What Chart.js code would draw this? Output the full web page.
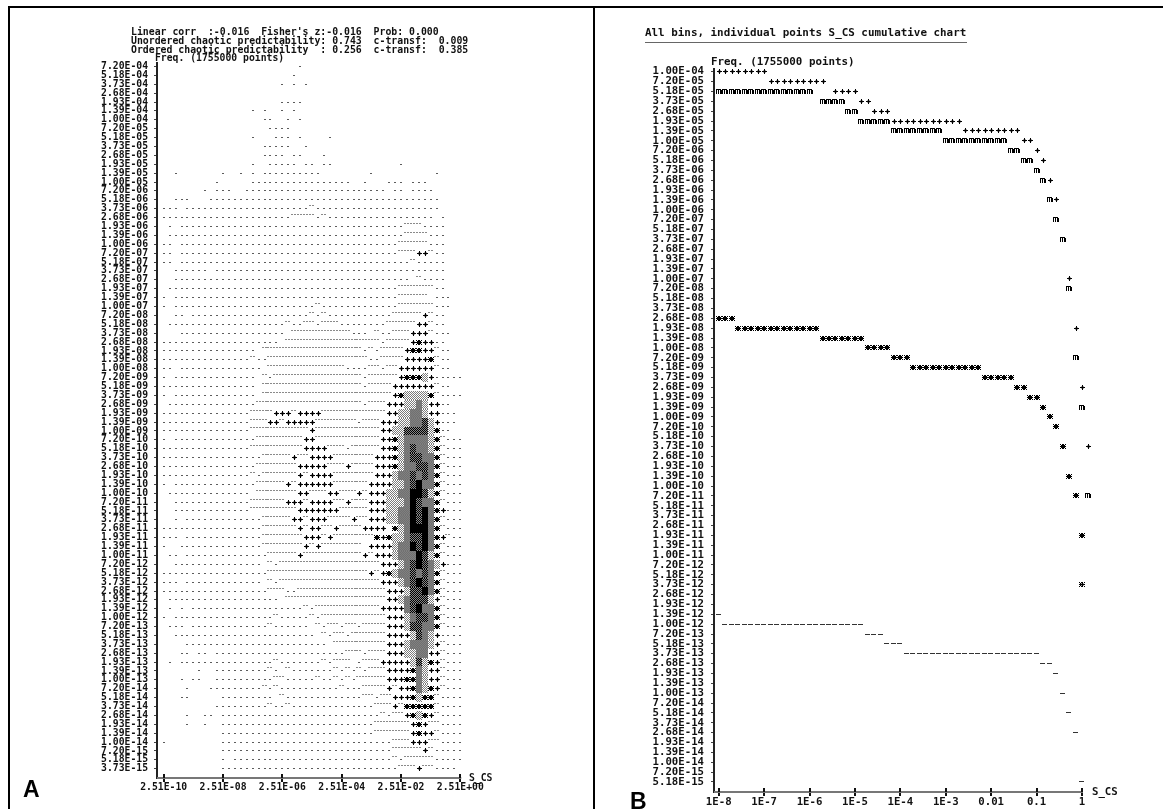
<!DOCTYPE html>
<html><head><meta charset="utf-8">
<style>
html,body{margin:0;padding:0;background:#fff;width:1171px;height:809px;overflow:hidden}
canvas{position:absolute;top:0}
.t{position:absolute;white-space:pre;font-family:"DejaVu Sans Mono",monospace;font-weight:bold;color:#111;line-height:10px}
.l{position:absolute;background:#000}
.p{position:absolute;font-family:"Liberation Sans",sans-serif;font-weight:bold;color:#000;font-size:23px;line-height:23px}
</style></head><body>
<div class="l" style="left:8px;top:6px;width:1155px;height:2px"></div>
<div class="l" style="left:8px;top:6px;width:2px;height:803px"></div>
<div class="l" style="left:593px;top:6px;width:2px;height:803px"></div>
<div style="position:absolute;left:0;top:0;width:594px;height:809px"><canvas id="a" width="594" height="809" style="left:0;width:594px;height:809px"></canvas></div>
<div style="position:absolute;left:596px;top:0;width:575px;height:809px"><canvas id="b" width="575" height="809" style="left:0;width:575px;height:809px"></canvas></div>
<div class="t" style="left:131px;top:27px;font-size:9.83px">Linear corr  :-0.016  Fisher's z:-0.016  Prob: 0.000</div>
<div class="t" style="left:131px;top:36px;font-size:9.83px">Unordered chaotic predictability: 0.743  c-transf:  0.009</div>
<div class="t" style="left:131px;top:45px;font-size:9.83px">Ordered chaotic predictability  : 0.256  c-transf:  0.385</div>
<div class="t" style="left:155px;top:53px;font-size:9.75px">Freq. (1755000 points)</div>
<div class="t" style="left:469px;top:773px;font-size:9.75px">S_CS</div>
<div class="p" style="left:23px;top:778px">A</div>
<div class="t" style="left:645px;top:28px;font-size:10.9px">All bins, individual points S_CS cumulative chart</div>
<div style="position:absolute;left:645px;top:41.5px;width:322px;height:1.5px;background:#666"></div>
<div class="t" style="left:711px;top:57px;font-size:10.85px">Freq. (1755000 points)</div>
<div class="t" style="left:1092px;top:787px;font-size:10.7px">S_CS</div>
<div class="p" style="left:630px;top:790px">B</div>
<script src="https://cdn.jsdelivr.net/npm/chart.js@4"></script>
<script>
// Panel A: frequency bins (rows, top to bottom)
const freqLabelsA = ["7.20E-04","5.18E-04","3.73E-04","2.68E-04","1.93E-04","1.39E-04","1.00E-04","7.20E-05","5.18E-05","3.73E-05","2.68E-05","1.93E-05","1.39E-05","1.00E-05","7.20E-06","5.18E-06","3.73E-06","2.68E-06","1.93E-06","1.39E-06","1.00E-06","7.20E-07","5.18E-07","3.73E-07","2.68E-07","1.93E-07","1.39E-07","1.00E-07","7.20E-08","5.18E-08","3.73E-08","2.68E-08","1.93E-08","1.39E-08","1.00E-08","7.20E-09","5.18E-09","3.73E-09","2.68E-09","1.93E-09","1.39E-09","1.00E-09","7.20E-10","5.18E-10","3.73E-10","2.68E-10","1.93E-10","1.39E-10","1.00E-10","7.20E-11","5.18E-11","3.73E-11","2.68E-11","1.93E-11","1.39E-11","1.00E-11","7.20E-12","5.18E-12","3.73E-12","2.68E-12","1.93E-12","1.39E-12","1.00E-12","7.20E-13","5.18E-13","3.73E-13","2.68E-13","1.93E-13","1.39E-13","1.00E-13","7.20E-14","5.18E-14","3.73E-14","2.68E-14","1.93E-14","1.39E-14","1.00E-14","7.20E-15","5.18E-15","3.73E-15"];
// Panel A: S_CS bins (columns)
const sBins = [2.51e-10,3.98e-10,6.31e-10,1e-9,1.58e-9,2.51e-9,3.98e-9,6.31e-9,1e-8,1.58e-8,2.51e-8,3.98e-8,6.31e-8,1e-7,1.58e-7,2.51e-7,3.98e-7,6.31e-7,1e-6,1.58e-6,2.51e-6,3.98e-6,6.31e-6,1e-5,1.58e-5,2.51e-5,3.98e-5,6.31e-5,1e-4,1.58e-4,2.51e-4,3.98e-4,6.31e-4,1e-3,1.58e-3,2.51e-3,3.98e-3,6.31e-3,1e-2,1.58e-2,2.51e-2,3.98e-2,6.31e-2,1e-1,1.58e-1,2.51e-1,3.98e-1,6.31e-1,1,1.58,2.51];
const xTicksA = [2.51e-10,2.51e-8,2.51e-6,2.51e-4,2.51e-2,2.51];
const xLabelsA = ["2.51E-10","2.51E-08","2.51E-06","2.51E-04","2.51E-02","2.51E+00"];
// Panel A: density per row, as runs "<level><firstColumn>-<lastColumn>"
// . single hit, - few, + more, * many, g/h/k/B growing shaded density
const densityRows = [
".23",".22",".20 .22 .24","",".20-23",".15 .17 .20 .22",".17-18 .21 .23",".18-21",".15 .19-21 .23 .28",".17-21 .24",
".17-20 .22-23 .27",".15 .18-22 .24-25 .27-28 .40",".2 .10 .13 .15 .17-26 .35 .46",".9 .15-31 .34 .38-40 .42-44",".7 .9-11 .14-37 .39-40 .42-45",".2-4 .8-46",".0-2 .4-24 -25 .26-46",".0-21 -22-25 .26 -27 .28-45 .47",".1 .3-40 -41-43 .44-47",".1-40 -41-44 .45-47",
".0-1 .3-39 -40-44 .45-47",".0-1 .3-39 -40-42 +43-44 -45 .46-47",".0-1 .3-41 -42 .43-47",".2-7 .9-47",".2-41 -43 .44-47",".1-39 -40-45 .46-47",".0 .2-39 -40-44 .46-48",".0 .2-25 -26 .27-39 -40-45 .46-48",".2-3 .5-24 -25 .26 -27 .28-38 -39-43 +44 -45 .46-47",".1-20 -21 .22-23 -24-25 .26 -27-29 .30-37 -38-42 +43-44 -45 .46-47",
".3-20 -22-31 .32-34 -36 .37-38 -39-41 +42-44 -45 .46-48",".0-19 -21-36 .37 -38-41 +42 *43 +44-45 .46-47",".0-15 -17-33 .34 -35 .36 -37-40 +41 *42-43 +44-45 -46 .47-48",".0-14 -15 .16-17 -18-34 .35-36 -37-40 +41-44 *45 -46 .47-48",".0-1 .3-16 -18-30 .31-34 -35-36 .37 -38-39 +40-45 -46 .47-48",".0 .2-15 -17 .18 -19-33 .34 -35-39 +40 *41-43 g44 +45 .46-50",".0-15 -17-33 .34 -35-38 +39-45 -46 .47-48",".0 .2-15 -17-38 +39 *40 g41-44 *45 -46 .47-50",".1-15 -16-33 .34 -35-37 +38-40 g41-42 h43 g44 +45-46 .47-48",".0-14 -15-18 +19-21 -22 +23-26 -27-37 +38-39 g40-41 h42-43 g44 +45-46 .47-49",
".0-14 -15-17 +18-19 -20 +21-25 -26-32 .33 -34-36 +37-39 g40-41 h42-43 k44 g45 +46 .47-49",".0-14 -15-24 +25 -26-36 +37-38 g39-40 k41-44 g45 *46 .47-48",".0 .2-15 -16-23 +24-25 -26-36 +37-38 *39 g40 h41-44 g45 *46 -47 .48-50",".0-14 -15-23 +24-27 -28-30 .31 -32-36 +37-38 *39 g40 h41 k42 h43-44 g45 *46 -47 .48-50",".0-16 -17-21 +22 -23-24 +25-28 -29-35 +36-38 *39 g40 h41 k42-43 h44-45 *46 -47 .48-50",".0-15 -16-22 +23-27 -28-30 +31 -32-35 +36-38 *39 g40 h41-42 k43-44 h45 *46 -47 .48-50",".0-14 -15 .16 -17-22 +23 -24 +25-28 -29-35 +36-38 g39 h40-41 k42 h43 k44 h45 *46 -47 .48-50",".0 .2-15 -16-20 +21 -22 +23-28 -29-34 +35-38 g39-40 h41 k42 B43 h44-45 *46 -47 .48-50",".1-14 -16-22 +23-24 -25-27 +28-29 -30-32 +33 -34 +35-37 g38-39 h40-41 B42-43 k44 g45 *46 -47 .48-50",".2-14 -15-20 +21-23 -24 +25-28 -29-30 +31 -32-34 +35-37 g38-40 h41 B42 k43 h44-45 *46 -47 .48-50",
".2-14 -15-22 +23-29 -30-34 +35-37 g38-39 h40-41 B42 k43 B44 h45 *46 +47 .48-50",".2 .4-16 -17-21 +22-23 -24 +25-27 -28-31 +32 -33-34 +35-37 g38-39 h40-41 B42 k43 B44 h45 *46 -47 .48-50",".0-16 -17-22 +23 -24 +25-26 -27-28 +29 -30-33 +34-37 *39 g40 h41 B42-44 h45 *46 -47 .48-50",".0-2 .4-16 -17-23 +24-26 -27 +28 -29-35 *36 +37 *38 g39-40 h41 k42-43 B44 h45 *46 +47 -48 .49-50",".0 .3-16 -17-23 +24 -25 +26 -27-33 +35-38 g39 h40-41 B42 k43 B44 h45 *46 -47 .48-50",".1-2 .4-17 -18-22 +23 -24-33 +34 -35 +36-38 g39 h40-42 B43 k44 g45 *46 -47 .48-50",".2-16 -18 .19 -20-36 +37-39 g40 h41 k42 B43 k44 h45 g46 +47 .48-50",".0-17 -18-34 +35 -36 +37 *38 g39 h40-41 k42 h43 k44 h45 *46 -47 .48-50",".0-2 .4-16 -18 .19 -20-36 +37-39 g40 h41 k42 B43 k44 h45 *46 -47 .48-50",".0-17 -18-20 .21-22 -23-37 +38-40 g41 k42-43 B44 h45 *46 -47 .48-50",
".1-19 -21-37 +38-39 g40 h41 k42-44 g45 +46 -47 .48-50",".1 .3 .5-23 -24 .25 -26-36 +37-40 h41 k42 B43 h44-45 *46 -47 .48-50",".0 .2-18 -19 .20-24 -25 .26 -27-37 +38-40 g41 h42 k43-44 h45 *46 -47 .48-50",".1-3 .5-17 -18 .19-24 -26 .27 -28-29 .30 -31-32 .33 -34-37 +38-40 g41 k42-43 h44-45 *46 -47 .48-50",".2-25 -27 .28 -29-30 .31 -32-37 +38-41 g42 k43 h44 g45 +46 .47-50",".4-27 -29-37 +38-40 g41 h42-44 g45 +46 -47 .48-50",".3-4 .6-7 .9-30 -31-33 .34 -35-37 +38-40 g41-42 h43-44 +45-46 -47 .48-50",".1 .3-18 -19 .20-26 -27 .28 -29-31 .33 -34-36 +37-41 g42 k43 g44 *45 +46 -47 .48-50",".6 .9-17 -18 .19 -21 .22-28 -29 .30 -31 .32 -33 .34 -35-37 +38-41 *42 h43 g44 +45-46 -47 .48-50",".3 .5-6 .9-18 -19-20 .21-25 -26 .27-28 -29 .30 -31 .32 -33-37 +38-40 *41-42 h43 g44 +45-46 -47 .48-50",
".4 .8-16 -17 .18 -19 .20-29 -30 .31-33 -34-37 +38 -39 +40-41 *42 h43 g44 *45 +46 -47 .48-50",".3-4 .10-18 -20 .21-33 -34-35 .36 -37-38 +39-41 *42 g43 *44-45 -46 .47-50",".9-17 -18 .19-20 -21 .22-35 -36-38 +39 -40 *41-45 -46 .47-50",".4 .7-8 .10-36 -37 .38 -39-40 +41 *42 g43 *44 +45 -46 .47-50",".4 .7 .10-35 -36-41 +42 *43 +44 -45-46 .47-50",".10-35 -36-41 +42 *43 +44-45 -46 .47-50",".0 .10-38 -39-41 +42-44 -45-46 .47-50",".10-38 -39-43 +44 -45 .46-50",".10 .12-38 -39 .40 -41-45 .46-50",".10-39 -40-42 +43 -44-45 .46-49"
];

// Panel B: frequency bins
const freqLabelsB = ["1.00E-04","7.20E-05","5.18E-05","3.73E-05","2.68E-05","1.93E-05","1.39E-05","1.00E-05","7.20E-06","5.18E-06","3.73E-06","2.68E-06","1.93E-06","1.39E-06","1.00E-06","7.20E-07","5.18E-07","3.73E-07","2.68E-07","1.93E-07","1.39E-07","1.00E-07","7.20E-08","5.18E-08","3.73E-08","2.68E-08","1.93E-08","1.39E-08","1.00E-08","7.20E-09","5.18E-09","3.73E-09","2.68E-09","1.93E-09","1.39E-09","1.00E-09","7.20E-10","5.18E-10","3.73E-10","2.68E-10","1.93E-10","1.39E-10","1.00E-10","7.20E-11","5.18E-11","3.73E-11","2.68E-11","1.93E-11","1.39E-11","1.00E-11","7.20E-12","5.18E-12","3.73E-12","2.68E-12","1.93E-12","1.39E-12","1.00E-12","7.20E-13","5.18E-13","3.73E-13","2.68E-13","1.93E-13","1.39E-13","1.00E-13","7.20E-14","5.18E-14","3.73E-14","2.68E-14","1.93E-14","1.39E-14","1.00E-14","7.20E-15","5.18E-15"];
// Panel B: cumulative S_CS bins
const cumBins = [1e-8,1.39e-8,1.93e-8,2.68e-8,3.73e-8,5.18e-8,7.2e-8,1e-7,1.39e-7,1.93e-7,2.68e-7,3.73e-7,5.18e-7,7.2e-7,1e-6,1.39e-6,1.93e-6,2.68e-6,3.73e-6,5.18e-6,7.2e-6,1e-5,1.39e-5,1.93e-5,2.68e-5,3.73e-5,5.18e-5,7.2e-5,1e-4,1.39e-4,1.93e-4,2.68e-4,3.73e-4,5.18e-4,7.2e-4,1e-3,1.39e-3,1.93e-3,2.68e-3,3.73e-3,5.18e-3,7.2e-3,1e-2,1.39e-2,1.93e-2,2.68e-2,3.73e-2,5.18e-2,7.2e-2,1e-1,1.39e-1,1.93e-1,2.68e-1,3.73e-1,5.18e-1,7.2e-1,1,1.39];
const xTicksB = [1e-8,1e-7,1e-6,1e-5,1e-4,1e-3,1e-2,1e-1,1];
const xLabelsB = ["1E-8","1E-7","1E-6","1E-5","1E-4","1E-3","0.01","0.1","1"];
// Panel B: cumulative series, as "<freq bin> <firstColumn>-<lastColumn>"
const cumPlus = ["1.00E-04 0-7","7.20E-05 8-16","5.18E-05 18-21","3.73E-05 22-23","2.68E-05 24-26","1.93E-05 27-37","1.39E-05 38-46","1.00E-05 47-48","7.20E-06 49-49","5.18E-06 50-50","2.68E-06 51-51","1.39E-06 52-52","1.00E-07 54-54","1.93E-08 55-55","2.68E-09 56-56","3.73E-10 57-57","3.73E-12 56-56"];
const cumM = ["5.18E-05 0-14","3.73E-05 16-19","2.68E-05 20-21","1.93E-05 22-26","1.39E-05 27-34","1.00E-05 35-44","7.20E-06 45-46","5.18E-06 47-48","3.73E-06 49-49","2.68E-06 50-50","1.39E-06 51-51","7.20E-07 52-52","3.73E-07 53-53","7.20E-08 54-54","7.20E-09 55-55","1.39E-09 56-56","7.20E-11 57-57"];
const cumStar = ["2.68E-08 0-2","1.93E-08 3-15","1.39E-08 16-22","1.00E-08 23-26","7.20E-09 27-29","5.18E-09 30-40","3.73E-09 41-45","2.68E-09 46-47","1.93E-09 48-49","1.39E-09 50-50","1.00E-09 51-51","7.20E-10 52-52","3.73E-10 53-53","1.39E-10 54-54","7.20E-11 55-55","1.93E-11 56-56","3.73E-12 56-56"];
const cumDash = ["1.39E-12 0-0","1.00E-12 1-22","7.20E-13 23-25","5.18E-13 26-28","3.73E-13 29-49","2.68E-13 50-51","1.93E-13 52-52","1.00E-13 53-53","5.18E-14 54-54","2.68E-14 55-55","5.18E-15 56-56"];

// ---------- glyph sprites (the original is a character-mode plot) ----------
function sprite(rows, palette){
  const c=document.createElement('canvas');c.width=rows[0].length;c.height=rows.length;
  const g=c.getContext('2d');
  rows.forEach((r,y)=>[...r].forEach((ch,x)=>{if(palette[ch]){g.fillStyle=palette[ch];g.fillRect(x,y,1,1);}}));
  return c;
}
const INK={'#':'#000','o':'#5c5c5c','s':'#a8a8a8'};
const BLANK='......';
function cell(a,b){const rows=[];for(let y=0;y<9;y++){rows.push(y%2?b+a+b+a+b+a:a+b+a+b+a+b);}return rows;}
const plusG=sprite([BLANK,BLANK,"...#..","..s#s.",".#####","..s#s.","...#..",BLANK,BLANK],INK);
const starG=sprite([BLANK,BLANK,"#.##.#",".####.","######",".####.","#.##.#",BLANK,BLANK],INK);
const glyphsA={
 '.':sprite([BLANK,BLANK,BLANK,BLANK,"..oo..",BLANK,BLANK,BLANK,BLANK],INK),
 '-':sprite([BLANK,"oo.oo.",BLANK,BLANK,BLANK,BLANK,BLANK,BLANK,BLANK],{'o':'#8a8a8a'}),
 '+':plusG,'*':starG,
 'g':sprite(cell('a','b'),{a:'#ffffff',b:'#7c7c7c'}),
 'h':sprite(cell('a','b'),{a:'#808080',b:'#707070'}),
 'k':sprite(cell('a','b'),{a:'#000000',b:'#888888'}),
 'B':sprite(cell('a','a'),{a:'#000000'})
};
const mG=sprite([BLANK,BLANK,"#####.","#.#.##","#.#.##","#.#.##","#.#.##",BLANK,BLANK],INK);
const dashG=sprite([BLANK,BLANK,BLANK,BLANK,"ooooo.",BLANK,BLANK,BLANK,BLANK],{'o':'#333'});

// ---------- expand the readings into points ----------
const levels={'g':[],'h':[],'k':[],'B':[],'.':[],'-':[],'+':[],'*':[]};
densityRows.forEach((spec,r)=>{
  for(const m of spec.matchAll(/([.\-+*ghkB])(\d+)(?:-(\d+))?/g)){
    const a=+m[2],b=m[3]===undefined?a:+m[3];
    for(let k=a;k<=b;k++) levels[m[1]].push({x:sBins[k],y:Number(freqLabelsA[r])});
  }
});
function cumPoints(list){
  const out=[];
  list.forEach(s=>{const [f,range]=s.split(' ');const [a,b]=range.split('-').map(Number);
    for(let j=a;j<=b;j++) out.push({x:cumBins[j],y:Number(f)});});
  return out;
}
function ds(data,style){return {data,pointStyle:style,pointRadius:3,pointHoverRadius:3,showLine:false,clip:false};}

const frame=(xColor)=>({
  id:'frame',
  beforeDatasetsDraw(c){c.ctx.imageSmoothingEnabled=false;},
  afterDraw(c){
    const g=c.ctx,x=c.scales.x,a=c.chartArea;
    g.save();
    g.fillStyle='#222';g.fillRect(Math.round(a.left)-1,a.top,2,a.bottom-a.top+1);
    const last=x.getPixelForValue(x.ticks[x.ticks.length-1].value);
    g.fillStyle=xColor;g.fillRect(a.left,Math.round(a.bottom)-1,last-a.left+1,2);
    g.fillStyle='#111';
    x.ticks.forEach(t=>{g.fillRect(Math.round(x.getPixelForValue(t.value))-1,Math.round(a.bottom)-4,2,4);});
    g.restore();
  }
});

function makeChart(id,datasets,o){
  return new Chart(document.getElementById(id),{
    type:'scatter',
    data:{datasets},
    plugins:[frame('#777')],
    options:{
      responsive:false,animation:false,events:[],
      layout:{padding:{top:o.top,right:o.right,left:0,bottom:0}},
      plugins:{legend:{display:false},tooltip:{enabled:false},title:{display:false}},
      scales:{
        x:{type:'logarithmic',min:o.xMin,max:o.xMax,
          afterBuildTicks(s){s.ticks=o.xTicks.map(v=>({value:v}));},
          afterFit(s){s.height=o.xH;},
          border:{display:false},
          grid:{drawOnChartArea:false,drawTicks:true,tickLength:4,color:'#111',lineWidth:2},
          ticks:{autoSkip:false,maxRotation:0,minRotation:0,padding:o.xPad,color:'#111',
            font:{family:'"DejaVu Sans Mono"',weight:'bold',size:o.font},
            callback:(v,i)=>o.xLabels[i]}},
        y:{type:'logarithmic',min:o.yMin,max:o.yMax,
          afterBuildTicks(s){s.ticks=o.yLabels.map(l=>({value:Number(l)}));},
          afterFit(s){s.width=o.yW;},
          border:{display:false},
          grid:{drawOnChartArea:false,drawTicks:true,tickLength:3,color:'#444',lineWidth:1},
          ticks:{autoSkip:false,padding:o.yPad,color:'#111',
            font:{family:'"DejaVu Sans Mono"',weight:'bold',size:o.font,lineHeight:1},
            callback:(v,i)=>o.yLabels[i]}}
      }
    }
  });
}
makeChart('a',[
  ds(levels['g'],glyphsA['g']),ds(levels['h'],glyphsA['h']),ds(levels['k'],glyphsA['k']),ds(levels['B'],glyphsA['B']),
  ds(levels['.'],glyphsA['.']),ds(levels['-'],glyphsA['-']),ds(levels['+'],glyphsA['+']),ds(levels['*'],glyphsA['*'])
],{top:62,right:128,xH:31,yW:157,xPad:0,yPad:6,font:9.75,
   xMin:1.492e-10,xMax:3.91,yMin:2.65e-15,yMax:8.5e-4,xTicks:xTicksA,xLabels:xLabelsA,yLabels:freqLabelsA});
makeChart('b',[
  ds(cumPoints(cumPlus),plusG),ds(cumPoints(cumM),mG),ds(cumPoints(cumStar),starG),ds(cumPoints(cumDash),dashG)
],{top:68,right:79,xH:17,yW:118,xPad:0,yPad:7,font:10.7,
   xMin:7.87e-9,xMax:1.662,yMin:3.71e-15,yMax:1.131e-4,xTicks:xTicksB,xLabels:xLabelsB,yLabels:freqLabelsB});
</script>
</body></html>
